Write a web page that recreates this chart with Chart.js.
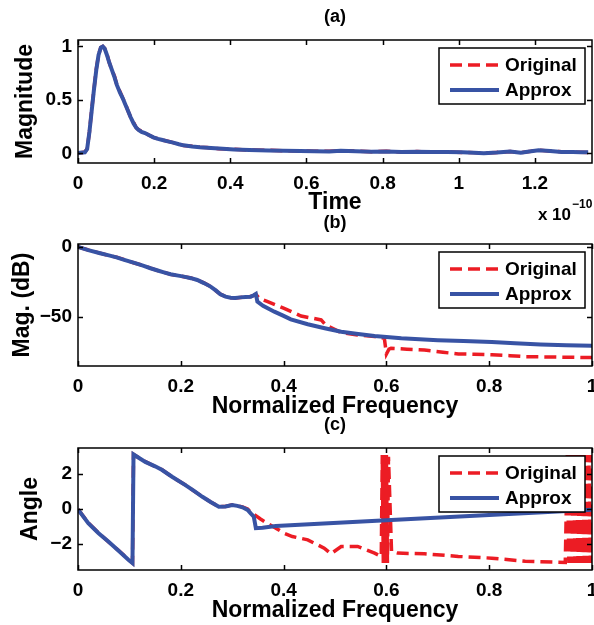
<!DOCTYPE html>
<html><head><meta charset="utf-8">
<script src="https://cdn.jsdelivr.net/npm/chart.js@4"></script>
<style>
html,body{margin:0;padding:0;background:#fff;}
#wrap{position:relative;width:594px;height:625px;overflow:hidden;background:#fff;}
canvas{position:absolute;left:0;}
</style></head><body>
<div id="wrap">
<canvas id="ca" width="594" height="226" style="top:0px"></canvas>
<canvas id="cb" width="594" height="216" style="top:204px"></canvas>
<canvas id="cc" width="594" height="217" style="top:408px"></canvas>
</div>
<script>
// ---------- Panel (a): time-domain magnitude (time in units of 1e-10) ----------
const timeA = [0, 0.005, 0.012, 0.018, 0.024, 0.03, 0.036, 0.042, 0.048, 0.054,
  0.06, 0.065, 0.07, 0.076, 0.082, 0.089, 0.096, 0.102, 0.11, 0.117,
  0.124, 0.131, 0.138, 0.146, 0.153, 0.159, 0.167, 0.176, 0.187, 0.198,
  0.21, 0.222, 0.233, 0.25, 0.265, 0.277, 0.3, 0.32, 0.339, 0.37,
  0.41, 0.45, 0.5, 0.54, 0.584, 0.62, 0.66, 0.69, 0.73, 0.77,
  0.81, 0.85, 0.89, 0.93, 0.97, 1.01, 1.04, 1.066, 1.1, 1.135,
  1.163, 1.19, 1.21, 1.24, 1.27, 1.3, 1.32, 1.34];
const magApproxA = [0, 0.006, 0.008, 0.01, 0.04, 0.2, 0.4, 0.6, 0.78, 0.92,
  0.99, 1.0, 0.98, 0.92, 0.85, 0.78, 0.71, 0.64, 0.57, 0.52,
  0.46, 0.4, 0.34, 0.28, 0.24, 0.22, 0.2, 0.19, 0.17, 0.15,
  0.135, 0.125, 0.115, 0.1, 0.085, 0.075, 0.065, 0.058, 0.053, 0.045,
  0.037, 0.032, 0.028, 0.025, 0.022, 0.02, 0.018, 0.025, 0.02, 0.016,
  0.018, 0.014, 0.016, 0.012, 0.014, 0.01, 0.006, 0.002, 0.008, 0.018,
  0.006, 0.02, 0.03, 0.022, 0.014, 0.012, 0.01, 0.01];
const magOrigA = [0, 0.005, 0.009, 0.012, 0.042, 0.2, 0.41, 0.6, 0.79, 0.92,
  0.99, 1.0, 0.98, 0.93, 0.85, 0.78, 0.72, 0.64, 0.58, 0.52,
  0.47, 0.4, 0.34, 0.29, 0.24, 0.22, 0.21, 0.19, 0.17, 0.15,
  0.136, 0.124, 0.116, 0.1, 0.086, 0.074, 0.066, 0.057, 0.054, 0.044,
  0.038, 0.031, 0.029, 0.024, 0.023, 0.019, 0.019, 0.024, 0.021, 0.015,
  0.019, 0.013, 0.017, 0.011, 0.015, 0.009, 0.007, 0.001, 0.009, 0.017,
  0.007, 0.019, 0.031, 0.021, 0.015, 0.011, 0.011, 0.009];
const xTicksA = [0, 0.2, 0.4, 0.6, 0.8, 1, 1.2];
const xLabelsA = ['0', '0.2', '0.4', '0.6', '0.8', '1', '1.2'];
const yTicksA = [0, 0.5, 1];
const yLabelsA = ['0', '0.5', '1'];

// ---------- Panel (b): magnitude in dB vs normalized frequency ----------
const freqB = [0, 0.02, 0.043, 0.06, 0.075, 0.09, 0.108, 0.125, 0.141, 0.155,
  0.167, 0.18, 0.195, 0.206, 0.22, 0.232, 0.245, 0.258, 0.268, 0.277,
  0.287, 0.297, 0.306, 0.316, 0.326, 0.336, 0.342, 0.346, 0.349, 0.36,
  0.382, 0.4, 0.414, 0.447, 0.48, 0.512, 0.545, 0.577, 0.629, 0.7,
  0.75, 0.805, 0.85, 0.9, 0.95, 1.0];
const dbApproxB = [0, -2.3, -4.5, -6, -7.4, -9.2, -11.2, -13.2, -15.2, -16.8,
  -18.1, -19.5, -20.5, -21.2, -22.3, -23.6, -25.8, -28.3, -31, -33.8,
  -35.5, -36.2, -36.5, -36, -35.7, -35.5, -34.5, -33.6, -39, -42,
  -46.2, -49.2, -51.7, -55.2, -58, -60.5, -62.2, -63.6, -65.2, -66.6,
  -67.2, -67.8, -68.8, -69.6, -70.1, -70.5];
const freqOrigB = [0, 0.02, 0.043, 0.06, 0.075, 0.09, 0.108, 0.125, 0.141, 0.155,
  0.167, 0.18, 0.195, 0.206, 0.22, 0.232, 0.245, 0.258, 0.268, 0.277,
  0.287, 0.297, 0.306, 0.316, 0.326, 0.336, 0.342, 0.346, 0.352, 0.369,
  0.401, 0.434, 0.473, 0.482, 0.512, 0.544, 0.577, 0.596, 0.6, 0.605,
  0.609, 0.64, 0.674, 0.71, 0.74, 0.77, 0.805, 0.84, 0.87, 0.93, 1.0];
const dbOrigB = [0, -2.2, -4.4, -6.1, -7.3, -9.1, -11.3, -13.1, -15.1, -16.9,
  -18.0, -19.6, -20.4, -21.3, -22.2, -23.7, -25.7, -28.2, -31.1, -33.7,
  -35.4, -36.3, -36.4, -36.1, -35.8, -35.4, -34.6, -33.8, -36.5, -39,
  -43.8, -49.3, -52.1, -55.7, -61.2, -62.9, -64, -65.2, -76.5, -73,
  -72.4, -73, -73.6, -75.2, -76.4, -76.6, -77, -77.6, -78.3, -78.6, -79];
const xTicksF = [0, 0.2, 0.4, 0.6, 0.8, 1];
const xLabelsF = ['0', '0.2', '0.4', '0.6', '0.8', '1'];
const yTicksB = [-50, 0];
const yLabelsB = ['\u221250', '0'];

// ---------- Panel (c): phase angle vs normalized frequency ----------
const freqC = [0, 0.02, 0.04, 0.059, 0.079, 0.098, 0.106, 0.108, 0.131, 0.15,
  0.163, 0.183, 0.209, 0.225, 0.242, 0.258, 0.274, 0.287, 0.3, 0.31,
  0.32, 0.33, 0.336, 0.342, 0.346, 0.359, 0.385, 0.45, 0.6, 0.8, 1.0];
const angApproxC = [-0.02, -0.82, -1.39, -1.87, -2.4, -2.91, -3.1, 3.13, 2.7, 2.45,
  2.25, 1.85, 1.37, 1.05, 0.7, 0.4, 0.13, 0.14, 0.23, 0.18,
  0.1, -0.05, -0.25, -0.44, -1.1, -1.07, -0.97, -0.87, -0.64, -0.34, -0.05];
const freqOrigC = [0, 0.02, 0.04, 0.059, 0.079, 0.098, 0.106, 0.108, 0.131, 0.15,
  0.163, 0.183, 0.209, 0.225, 0.242, 0.258, 0.274, 0.287, 0.3, 0.31,
  0.32, 0.33, 0.336, 0.342, 0.355, 0.368, 0.385, 0.401, 0.417, 0.447,
  0.479, 0.492, 0.512, 0.544, 0.577, 0.59, 0.592, 0.594, 0.596, 0.598,
  0.6, 0.602, 0.604, 0.61, 0.622, 0.674, 0.74, 0.805, 0.87, 0.948,
  0.952, 0.955, 0.958, 0.961, 0.964, 0.967, 0.97, 0.973, 0.976, 0.979,
  0.982, 0.985, 0.988, 0.991, 0.994, 0.997, 1.0];
const angOrigC = [-0.02, -0.8, -1.37, -1.88, -2.38, -2.9, -3.1, 3.13, 2.72, 2.44,
  2.26, 1.84, 1.38, 1.04, 0.71, 0.4, 0.14, 0.15, 0.24, 0.19,
  0.12, 0.0, -0.2, -0.3, -0.57, -0.82, -1.1, -1.39, -1.58, -1.77,
  -2.25, -2.57, -2.15, -2.15, -2.53, -2.72, 3.1, -3.1, 3.1, -3.1,
  3.1, -3.1, 3.0, -2.45, -2.53, -2.57, -2.72, -2.82, -3.0, -3.07,
  3.1, -3.1, 3.1, -3.1, 3.1, -3.1, 3.1, -3.1, 3.1, -3.1,
  3.1, -3.1, 3.1, -3.1, 3.1, -3.1, 3.1];
const yTicksC = [-2, 0, 2];
const yLabelsC = ['\u22122', '0', '2'];

const seriesNames = ['Original', 'Approx'];

// ---------- styling ----------
const FONT = '"Liberation Sans", Arial, Helvetica, sans-serif';
const RED = '#ec1c24';
const BLUE = '#3853a4';

function pairs(xs, ys) { return xs.map((x, i) => ({x: x, y: ys[i]})); }

const matlabFrame = {
  id: 'matlabFrame',
  afterDraw(chart, args, opts) {
    const ctx = chart.ctx, a = chart.chartArea, sx = chart.scales.x, sy = chart.scales.y;
    ctx.save();
    ctx.strokeStyle = '#000';
    ctx.lineWidth = 1.5;
    const tl = 5;
    ctx.beginPath();
    sx.ticks.forEach(t => {
      const px = Math.round(sx.getPixelForValue(t.value)) + 0.5;
      ctx.moveTo(px, a.bottom); ctx.lineTo(px, a.bottom - tl);
      ctx.moveTo(px, a.top); ctx.lineTo(px, a.top + tl);
    });
    sy.ticks.forEach(t => {
      const py = Math.round(sy.getPixelForValue(t.value)) + 0.5;
      ctx.moveTo(a.left, py); ctx.lineTo(a.left + tl, py);
      ctx.moveTo(a.right, py); ctx.lineTo(a.right - tl, py);
    });
    ctx.stroke();
    ctx.strokeRect(a.left, a.top, a.right - a.left, a.bottom - a.top);
    // legend box
    const bw = 146, bh = 56, bx = a.right - 153, by = a.top + 8;
    ctx.fillStyle = '#fff';
    ctx.fillRect(bx, by, bw, bh);
    ctx.lineWidth = 1.5;
    ctx.strokeRect(bx, by, bw, bh);
    chart.data.datasets.forEach((ds, i) => {
      const cy = by + 17 + i * 25;
      ctx.save();
      ctx.strokeStyle = ds.borderColor;
      ctx.lineWidth = ds.borderWidth;
      ctx.setLineDash(ds.borderDash || []);
      ctx.beginPath(); ctx.moveTo(bx + 11, cy); ctx.lineTo(bx + 60, cy); ctx.stroke();
      ctx.restore();
      ctx.fillStyle = '#000';
      ctx.font = 'bold 19px ' + FONT;
      ctx.textAlign = 'left';
      ctx.textBaseline = 'middle';
      ctx.fillText(ds.label, bx + 66, cy + 1);
    });
    if (opts && opts.exponent) {
      ctx.fillStyle = '#000';
      ctx.textBaseline = 'alphabetic';
      ctx.font = 'bold 17px ' + FONT;
      ctx.textAlign = 'right';
      ctx.fillText('x 10', 571, 220);
      ctx.font = 'bold 12px ' + FONT;
      ctx.textAlign = 'left';
      ctx.fillText('\u221210', 572, 208);
    }
    ctx.restore();
  }
};

function makePanel(cfg) {
  return new Chart(document.getElementById(cfg.id), {
    type: 'line',
    data: {
      datasets: [
        {label: seriesNames[0], data: pairs(cfg.ox, cfg.oy), borderColor: RED, borderWidth: 3.5,
         borderDash: [12, 6], order: 1, fill: false, pointRadius: 0, tension: 0},
        {label: seriesNames[1], data: pairs(cfg.ax, cfg.ay), borderColor: BLUE, borderWidth: 4,
         order: 0, fill: false, pointRadius: 0, tension: 0}
      ]
    },
    options: {
      responsive: false,
      animation: false,
      devicePixelRatio: 1,
      events: [],
      layout: {padding: {left: 0, right: 2, top: 0, bottom: cfg.padBottom}},
      plugins: {
        legend: {display: false},
        tooltip: {enabled: false},
        title: {display: true, text: cfg.title, fullSize: false, color: '#000',
                font: {family: FONT, size: 18, weight: 'bold', lineHeight: 1.25},
                padding: {top: cfg.titleTop, bottom: 40 - 22.5 - cfg.titleTop}},
        matlabFrame: {exponent: !!cfg.exponent}
      },
      scales: {
        x: {
          type: 'linear', min: cfg.xmin, max: cfg.xmax,
          grid: {display: false, drawTicks: false}, border: {display: false},
          afterBuildTicks: s => { s.ticks = cfg.xt.map(v => ({value: v})); },
          afterFit: s => { s.height = cfg.xh; s.paddingLeft = 0; s.paddingRight = 0; },
          ticks: {color: '#000', padding: 10, maxRotation: 0, autoSkip: false,
                  font: {family: FONT, size: 19, weight: 'bold', lineHeight: 1.15},
                  callback: (v, i) => cfg.xl[i]},
          title: {display: true, text: cfg.xTitle, color: '#000',
                  font: {family: FONT, size: 23, weight: 'bold', lineHeight: 1.15},
                  padding: {top: 0, bottom: 0}}
        },
        y: {
          type: 'linear', min: cfg.ymin, max: cfg.ymax,
          grid: {display: false, drawTicks: false}, border: {display: false},
          afterBuildTicks: s => { s.ticks = cfg.yt.map(v => ({value: v})); },
          afterFit: s => { s.width = 78; s.paddingTop = 0; s.paddingBottom = 0; },
          ticks: {color: '#000', padding: 6, autoSkip: false,
                  font: {family: FONT, size: 19, weight: 'bold', lineHeight: 1.15},
                  callback: (v, i) => cfg.yl[i]},
          title: {display: true, text: cfg.yTitle, color: '#000',
                  font: {family: FONT, size: 23, weight: 'bold', lineHeight: 1.15},
                  padding: {top: cfg.yTitlePad, bottom: 0}}
        }
      }
    },
    plugins: [matlabFrame]
  });
}

makePanel({id: 'ca', title: '(a)', titleTop: 6, padBottom: 10, xh: 53, exponent: true,
  ox: timeA, oy: magOrigA, ax: timeA, ay: magApproxA,
  xmin: 0, xmax: 1.35, xt: xTicksA, xl: xLabelsA, xTitle: 'Time',
  ymin: -0.09, ymax: 1.06, yt: yTicksA, yl: yLabelsA, yTitle: 'Magnitude', yTitlePad: 12});
makePanel({id: 'cb', title: '(b)', titleTop: 8, padBottom: 0, xh: 54,
  ox: freqOrigB, oy: dbOrigB, ax: freqB, ay: dbApproxB,
  xmin: 0, xmax: 1, xt: xTicksF, xl: xLabelsF, xTitle: 'Normalized Frequency',
  ymin: -85, ymax: 2.1, yt: yTicksB, yl: yLabelsB, yTitle: 'Mag. (dB)', yTitlePad: 9});
makePanel({id: 'cc', title: '(c)', titleTop: 6, padBottom: 1, xh: 54,
  ox: freqOrigC, oy: angOrigC, ax: freqC, ay: angApproxC,
  xmin: 0, xmax: 1, xt: xTicksF, xl: xLabelsF, xTitle: 'Normalized Frequency',
  ymin: -3.5, ymax: 3.5, yt: yTicksC, yl: yLabelsC, yTitle: 'Angle', yTitlePad: 17});
</script>
</body></html>
